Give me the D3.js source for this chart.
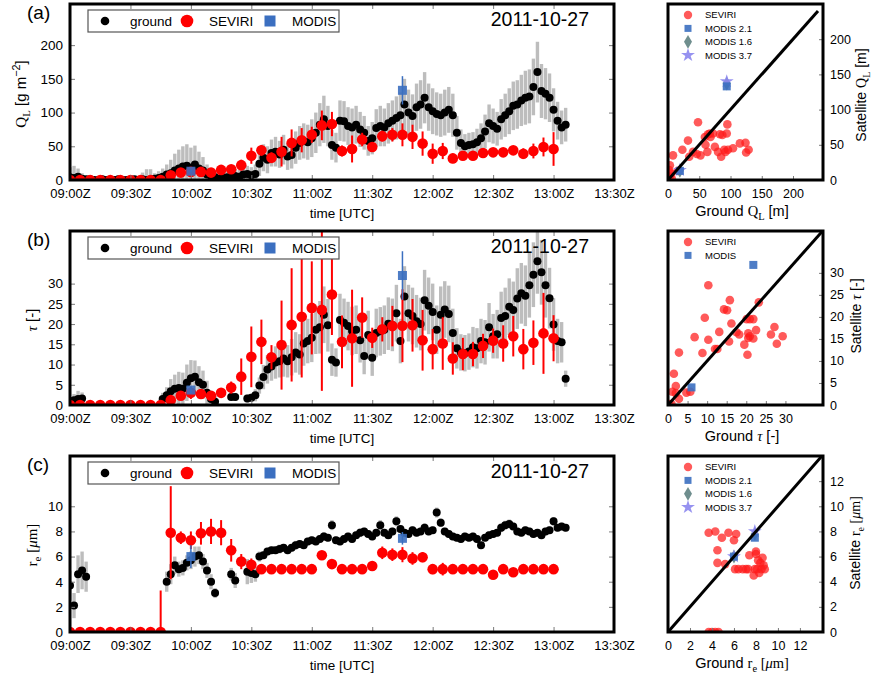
<!DOCTYPE html>
<html>
<head>
<meta charset="utf-8">
<script src="https://cdn.jsdelivr.net/npm/d3@7"></script>
<style>
body { margin: 0; background: #fff; }
text { font-family: Arial, "Liberation Sans", sans-serif; }
</style>
</head>
<body>
<svg id="chart" width="873" height="680"></svg>
<script>
// time grids (minutes after 09:00Z)
var groundMinutes = d3.range(0, 247, 2);
var seviriMinutes = d3.range(0, 241, 5);
var modisMinutes = [60, 165];
var xTickLabelsFmt = '%H:%MZ';
var dateLabel = '2011-10-27';

// ground (Cloudnet) liquid water path, 2-min samples
var groundQL = [
  4,3,5,2,1,1,0,0,1,0,
  0,0,1,0,0,0,1,0,1,0,
  1,2,3,5,8,10,14,17,20,21,
  18,23,17,14,8,6,4,2,3,4,
  5,6,5,8,9,7,9,24,33,30,
  40,42,38,45,35,37,48,55,58,56,
  62,70,82,90,80,52,48,88,87,80,
  78,82,75,70,58,62,77,80,78,84,
  88,92,96,112,100,95,108,112,122,108,
  102,98,96,100,104,96,70,55,50,52,
  53,56,62,72,84,80,76,90,96,102,
  110,112,118,122,124,138,160,132,128,122,
  104,88,78,82];
var groundQLErr = [
  15,18,12,8,3,2,2,2,2,2,
  2,2,2,2,2,2,2,2,10,16,
  15,8,10,12,15,20,25,28,30,32,
  30,28,25,20,15,12,10,8,10,10,
  10,10,10,12,12,12,14,18,20,20,
  20,22,20,22,20,20,24,25,26,26,
  28,30,32,35,30,22,22,30,30,28,
  28,28,26,25,22,24,28,30,28,30,
  30,32,34,38,34,32,35,36,38,35,
  34,32,32,34,34,32,25,20,18,18,
  18,20,22,25,28,26,25,30,32,34,
  36,36,38,40,40,42,45,40,38,36,
  32,28,25,25];

// ground optical depth
var groundTau = [
  0.8,1.2,1.5,1.6,null,null,null,null,null,null,
  null,null,null,null,null,null,null,null,null,null,
  null,null,null,1.5,2.4,3.4,4.0,4.2,4.0,5.5,
  6.6,7.0,5.6,5.0,3.0,1.5,0.8,null,null,null,
  2.0,2.0,null,null,1.6,1.8,2.4,4.8,6.9,8.8,
  9.5,10.5,10.8,11.5,10.8,11.8,13.0,12.5,15.2,15.8,
  16.6,18.6,19.2,22.3,19.7,11.2,10.5,21.0,20.3,19.5,
  18.3,18.6,16.0,12.1,17.3,11.7,17.8,18.2,18.6,20.1,
  19.8,22.7,15.8,26.8,22.7,22.0,20.7,20.0,25.9,24.5,
  23.0,18.6,22.3,23.6,22.5,17.8,14.0,13.0,12.8,13.2,
  14.3,14.0,15.8,15.5,19.2,17.0,17.5,21.5,22.0,24.3,
  23.5,26.3,27.6,27.0,29.6,32.2,35.5,32.8,29.6,26.4,
  19.9,15.8,15.5,6.5];
var groundTauErr = [
  1.0,1.5,2.0,1.5,0,0,0,0,0,0,
  0,0,0,0,0,0,0,0,0,0,
  0,0,0,1.5,2,3,3.5,4,4,4.5,
  4.5,4,4,3.5,3,2,1.5,0,0,0,
  1,1,0,0,1,1,1.5,2,3,3.5,
  3.5,4,4,4.5,4,4.5,5,5,5.5,5.5,
  6,6,6.5,7,6.5,4,3.5,6.5,6,6,
  6,6,5.5,4.5,6,4.5,6,6,6,6.5,
  6.5,7,5.5,7.5,7,7,6.5,6.5,7.5,7,
  7,6,7,7,7,6,5,4.5,4.5,4.5,
  5,5,5.5,5.5,6,5.5,6,6.5,7,7,
  7,7.5,7.5,7.5,8,8,8,8,8,7.5,
  6.5,5.5,5,2];

// ground effective radius
var groundRe = [
  3.7,2.1,4.6,4.9,4.4,null,null,null,null,null,
  null,null,null,null,null,null,null,null,null,null,
  null,null,null,null,4.0,4.6,5.3,5.0,5.1,5.5,
  5.7,6.0,6.1,5.6,4.9,4.0,3.1,null,null,null,
  4.6,4.1,null,null,4.8,4.7,4.6,6.0,6.1,6.4,
  6.5,6.5,6.6,6.7,6.5,6.7,6.9,7.0,6.9,7.2,
  7.3,7.2,7.4,7.6,7.5,8.5,7.3,7.2,7.4,7.6,
  7.4,7.7,7.9,8.0,7.8,7.6,7.9,8.5,7.9,7.7,
  8.0,8.8,8.2,7.9,7.8,8.1,7.9,8.0,8.3,8.0,
  8.1,9.5,8.7,8.0,7.8,7.6,7.5,7.4,7.6,7.5,
  7.6,7.4,6.9,7.5,7.7,7.8,7.9,8.3,8.5,8.6,
  8.4,8.0,7.9,8.1,8.0,7.8,7.9,7.7,8.0,8.1,
  8.8,8.3,8.4,8.3];
var groundReErr = [
  1.2,1.0,1.5,1.5,1.2,0,0,0,0,0,
  0,0,0,0,0,0,0,0,0,0,
  0,0,0,0,0.8,0.8,0.7,0.6,0.6,0.6,
  0.7,0.8,0.7,0.6,0.6,0.6,0.4,0,0,0,
  0.5,0.6,0,0,1.0,0.8,0.6,0.4,0.3,0.3,
  0.3,0.3,0.35,0.3,0.3,0.3,0.35,0.3,0.3,0.3,
  0.3,0.3,0.3,0.35,0.3,0.4,0.3,0.3,0.3,0.3,
  0.3,0.3,0.35,0.3,0.3,0.3,0.3,0.4,0.3,0.3,
  0.3,0.4,0.3,0.3,0.3,0.3,0.3,0.3,0.35,0.3,
  0.3,0.4,0.35,0.3,0.3,0.3,0.3,0.3,0.3,0.3,
  0.3,0.3,0.3,0.3,0.3,0.3,0.3,0.35,0.35,0.35,
  0.3,0.3,0.3,0.3,0.3,0.3,0.3,0.3,0.3,0.3,
  0.35,0.3,0.3,0.3];

// SEVIRI retrievals, every 5 min
var seviriQL = [
  0,0,0,0,0,0,0,0,0,0,
  7,11,12,12,11,15,16,22,36,44,
  33,42,55,59,67,81,83,43,46,60,
  49,65,67,67,64,54,39,43,32,36,
  36,40,41,41,44,39,43,49,46];
var seviriQLErr = [
  0,0,0,0,0,0,0,0,0,0,
  4,5,5,5,4,5,5,8,12,8,
  8,22,20,18,12,22,18,8,20,10,
  6,8,10,17,18,18,15,12,7,5,
  5,5,5,5,6,8,11,14,25];
var seviriTau = [
  0,0,0,0,0,0,0,0,0,0,
  1.2,2.3,3.0,2.7,2.3,3.0,4.3,7.0,11.9,15.6,
  11.8,14.8,19.8,21.8,24.0,23.5,27.3,15.6,16.5,21.6,
  16.6,18.7,19.5,19.6,19.7,16.0,13.8,15.2,11.5,12.6,
  12.6,14.6,15.9,15.2,17.0,13.8,15.4,17.7,16.5];
var seviriTauErr = [
  0,0,0,0,0,0,0,0,0,0,
  1,1,1.5,1,1,1,1.5,4.5,7.5,5.5,
  3,11,14,15,11.5,20,10,6.5,12,5,
  2.5,3,5,9,6.5,7.5,5,6.5,4,4,
  3,3,3,4.5,5,5,5.5,10,5.7,17.5];
var seviriRe = [
  0,0,0,0,0,0,0,0,0,0,
  7.9,7.5,7.3,7.85,8.0,7.9,6.5,5.6,5.35,5.0,
  5.0,5.0,5.0,5.0,5.0,6.1,5.4,5.0,5.0,5.0,
  5.25,6.3,6.15,6.15,5.85,5.95,5.0,5.0,5.0,5.0,
  5.0,5.0,4.55,5.0,4.75,5.0,5.0,5.0,5.0];
var seviriReErr = [
  0,0,0,0,0,0,0,0,0,3.3,
  3.7,0.5,0.7,0.9,1.0,1.0,0.9,0.6,0.5,0.15,
  0.15,0.15,0.15,0.15,0.3,0.3,0.2,0.15,0.15,0.15,
  0.4,0.5,0.5,0.6,0.5,0.4,0.4,0.5,0.15,0.15,
  0.15,0.15,0.2,0.35,0.2,0.3,0.3,0.15,0.15];

// MODIS overpasses
var modisQL = [13, 133], modisQLErr = [2, 21];
var modisTau = [3.7, 32], modisTauErr = [0.8, 6];
var modisRe = [6.0, 7.45], modisReErr = [0.9, 0.5];

// scatter: ground vs satellite
var scatQLGround = [5,3,2,8,3,6,16,23,32,34,40,48,46,52,59,60,63,64,68,67,72,75,80,83,87,85,90,94,95,92,96,104,115,124,125,129,0];
var scatQLSat    = [9.5,21,14,35,5,2,13,43,56,33,40,82,37,35,61,50,40,65,61,66,66,47,40,65,64,33,43,66,79,40,43,45,52,53,39,43,0];
var scatQLModisGround = [19, 94];
var scatQLModis21 = [13, 133];
var scatQLModis16 = [13, 137];
var scatQLModis37 = [14, 140];

var scatTauGround = [10.3,15.8,14.3,15.1,9.4,23.2,16.2,20.1,20.9,21.8,13.1,17.5,18.2,6.8,10.3,15.6,20.5,20.5,20.9,21.8,22.5,19.5,20.3,12.0,12.6,8.8,2.8,26.3,27.2,29.3,27.8,1.5,2.0,1.1,2.0,2.8,4.7,5.7,0.9,0.3];
var scatTauSat    = [27.2,23.8,21.7,21.5,19.8,23.3,18.5,19.5,19.5,19.5,16.6,16.5,16.0,15.4,14.8,14.4,16.3,15.2,15.6,15.1,17.0,13.7,11.4,12.7,12.7,11.8,11.9,16.0,17.7,15.6,13.9,7.1,4.3,3.0,2.7,1.4,2.8,3.0,0.2,0.2];
var scatTauModisGround = [6.0, 21.8];
var scatTauModis = [4.0, 31.8];

var scatReGround = [3.7,4.3,4.9,5.5,6.0,6.2,4.5,4.5,5.2,6.1,6.4,7.3,7.4,7.9,8.0,8.0,8.2,8.4,8.6,8.7,8.5,8.8,7.8,8.3,7.1,6.8,8.1,3.7,4.0,4.3,4.6];
var scatReSat    = [7.9,8.0,7.5,7.9,7.3,7.8,6.5,5.5,5.4,5.0,5.0,5.0,6.1,5.0,6.2,6.4,5.7,5.5,5.9,5.3,5.0,5.0,4.5,4.7,5.0,5.0,5.0,0,0,0,0];
var scatReModisGround = [6.0, 7.9];
var scatReModis21 = [6.0, 7.5];
var scatReModis16 = [6.0, 7.8];
var scatReModis37 = [6.0, 8.0];

var SERIF = '"Liberation Serif", "DejaVu Serif", serif';
var RED = '#ff0000', BLUE = '#3b6fc0', GREY = '#bdbdbd', DIAM = '#6f8e8e', STAR = '#8b86ee';

var svg = d3.select('#chart');
svg.append('rect').attr('width', 873).attr('height', 680).attr('fill', '#fff');

var t0 = Date.UTC(2011, 9, 27, 9, 0);
function toDate(m) { return new Date(t0 + m * 60000); }
var x = d3.scaleTime().domain([toDate(0), toDate(270)]).range([70, 614]);

// write mixed sans / math text with sub- and superscripts
function addRich(sel, parts, fs) {
    var cur = 0;
    parts.forEach(function (p) {
        var want = p.sub ? 0.28 * fs : (p.sup ? -0.42 * fs : 0);
        var ts = sel.append('tspan').text(p.t).attr('dy', want - cur);
        cur = want;
        if (p.sub || p.sup) ts.attr('font-size', fs * 0.72);
        if (p.serif) ts.attr('font-family', SERIF);
        if (p.it) ts.attr('font-style', 'italic');
    });
}

var mathQL = [{t: 'Q', serif: 1}, {t: 'L', serif: 1, sub: 1}];
var mathTau = [{t: 'τ', serif: 1, it: 1}];
var mathRe = [{t: 'r', serif: 1}, {t: 'e', serif: 1, sub: 1}];
var unitRe = [{t: ' [', serif: 1}, {t: 'μ', serif: 1, it: 1}, {t: 'm]', serif: 1}];

var panels = [
    {
        label: '(a)', top: 4, bottom: 180, yMax: 261, yTicks: [0, 50, 100, 150, 200],
        ground: groundQL, groundErr: groundQLErr, sev: seviriQL, sevErr: seviriQLErr,
        modis: modisQL, modisErr: modisQLErr,
        yTitle: mathQL.concat([{t: ' [g m'}, {t: '−2', sup: 1}, {t: ']'}]), yTitleX: 26, yTitleY: 94,
        sc: {
            xMax: 248, yMax: 250, diag: 240, ticks: [0, 50, 100, 150, 200],
            g: scatQLGround, s: scatQLSat, mg: scatQLModisGround,
            m21: scatQLModis21, m16: scatQLModis16, m37: scatQLModis37,
            legend: ['SEVIRI', 'MODIS 2.1', 'MODIS 1.6', 'MODIS 3.7'],
            xTitle: [{t: 'Ground '}].concat(mathQL, [{t: ' [m]'}]),
            yTitle: [{t: 'Satellite '}].concat(mathQL, [{t: ' [m]'}]), yTitleX: 866, yTitleY: 95
        }
    },
    {
        label: '(b)', top: 231, bottom: 405, yMax: 43, yTicks: [0, 5, 10, 15, 20, 25, 30],
        ground: groundTau, groundErr: groundTauErr, sev: seviriTau, sevErr: seviriTauErr,
        modis: modisTau, modisErr: modisTauErr,
        yTitle: mathTau.concat([{t: ' [-]'}]), yTitleX: 37, yTitleY: 320,
        sc: {
            xMax: 39.6, yMax: 39.5, diag: 39.5, ticks: [0, 5, 10, 15, 20, 25, 30],
            g: scatTauGround, s: scatTauSat, mg: scatTauModisGround,
            m21: scatTauModis, m16: null, m37: null,
            legend: ['SEVIRI', 'MODIS'],
            xTitle: [{t: 'Ground '}].concat(mathTau, [{t: ' [-]'}]),
            yTitle: [{t: 'Satellite '}].concat(mathTau, [{t: ' [-]'}]), yTitleX: 861, yTitleY: 316
        }
    },
    {
        label: '(c)', top: 456, bottom: 632, yMax: 14, yTicks: [0, 2, 4, 6, 8, 10],
        ground: groundRe, groundErr: groundReErr, sev: seviriRe, sevErr: seviriReErr,
        modis: modisRe, modisErr: modisReErr,
        yTitle: mathRe.concat(unitRe), yTitleX: 37, yTitleY: 545,
        sc: {
            xMax: 14.1, yMax: 14, diag: 14, ticks: [0, 2, 4, 6, 8, 10, 12],
            g: scatReGround, s: scatReSat, mg: scatReModisGround,
            m21: scatReModis21, m16: scatReModis16, m37: scatReModis37,
            legend: ['SEVIRI', 'MODIS 2.1', 'MODIS 1.6', 'MODIS 3.7'],
            xTitle: [{t: 'Ground '}].concat(mathRe, unitRe),
            yTitle: [{t: 'Satellite '}].concat(mathRe, unitRe), yTitleX: 860, yTitleY: 543
        }
    }
];

function styleAxis(sel, fs) {
    sel.attr('font-size', fs).attr('font-family', 'Arial, "Liberation Sans", sans-serif');
    sel.select('.domain').remove();
    sel.selectAll('.tick line').attr('stroke', '#7a7a7a');
    sel.selectAll('.tick text').attr('fill', '#000');
}

function drawSeries(p, i) {
    var y = d3.scaleLinear().domain([0, p.yMax]).range([p.bottom, p.top]);
    var g = svg.append('g');
    var clipId = 'clip-ts-' + i;
    svg.append('clipPath').attr('id', clipId).append('rect')
        .attr('x', 70).attr('y', p.top).attr('width', 544).attr('height', p.bottom - p.top);
    var plot = g.append('g').attr('clip-path', 'url(#' + clipId + ')');

    var ground = groundMinutes.map(function (m, k) {
        return {m: m, v: p.ground[k], e: p.groundErr[k]};
    }).filter(function (d) { return d.v !== null; });
    var sev = seviriMinutes.map(function (m, k) { return {m: m, v: p.sev[k], e: p.sevErr[k]}; });
    var mod = modisMinutes.map(function (m, k) { return {m: m, v: p.modis[k], e: p.modisErr[k]}; });

    plot.selectAll('line.gerr').data(ground).join('line')
        .attr('x1', d => x(toDate(d.m))).attr('x2', d => x(toDate(d.m)))
        .attr('y1', d => y(d.v - d.e)).attr('y2', d => y(d.v + d.e))
        .attr('stroke', GREY).attr('stroke-width', 3.4);
    plot.selectAll('circle.gnd').data(ground).join('circle')
        .attr('cx', d => x(toDate(d.m))).attr('cy', d => y(d.v)).attr('r', 4).attr('fill', '#000');
    plot.selectAll('line.serr').data(sev.filter(d => d.e > 0)).join('line')
        .attr('x1', d => x(toDate(d.m))).attr('x2', d => x(toDate(d.m)))
        .attr('y1', d => y(d.v - d.e)).attr('y2', d => y(d.v + d.e))
        .attr('stroke', RED).attr('stroke-width', 2);
    plot.selectAll('circle.sev').data(sev).join('circle')
        .attr('cx', d => x(toDate(d.m))).attr('cy', d => y(d.v)).attr('r', 5.3).attr('fill', RED);
    plot.selectAll('line.merr').data(mod).join('line')
        .attr('x1', d => x(toDate(d.m))).attr('x2', d => x(toDate(d.m)))
        .attr('y1', d => y(d.v - d.e)).attr('y2', d => y(d.v + d.e))
        .attr('stroke', BLUE).attr('stroke-width', 1.5);
    plot.selectAll('rect.mod').data(mod).join('rect')
        .attr('x', d => x(toDate(d.m)) - 4.5).attr('y', d => y(d.v) - 4.5)
        .attr('width', 9).attr('height', 9).attr('fill', BLUE).attr('fill-opacity', 0.9);

    // axes, ticks pointing inwards on all four sides
    g.append('g').attr('transform', 'translate(0,' + p.bottom + ')')
        .call(d3.axisBottom(x).ticks(d3.utcMinute.every(30)).tickFormat(d3.utcFormat(xTickLabelsFmt))
            .tickSizeInner(-5).tickSizeOuter(0).tickPadding(9))
        .call(styleAxis, 13);
    g.append('g').attr('transform', 'translate(0,' + p.top + ')')
        .call(d3.axisTop(x).ticks(d3.utcMinute.every(30)).tickFormat('').tickSizeInner(-5).tickSizeOuter(0))
        .call(styleAxis, 13);
    g.append('g').attr('transform', 'translate(70,0)')
        .call(d3.axisLeft(y).tickValues(p.yTicks).tickSizeInner(-5).tickSizeOuter(0).tickPadding(7))
        .call(styleAxis, 13.5);
    g.append('g').attr('transform', 'translate(614,0)')
        .call(d3.axisRight(y).tickValues(p.yTicks).tickFormat('').tickSizeInner(-5).tickSizeOuter(0))
        .call(styleAxis, 13.5);

    g.append('rect').attr('x', 70).attr('y', p.top).attr('width', 544).attr('height', p.bottom - p.top)
        .attr('fill', 'none').attr('stroke', '#000').attr('stroke-width', 3);

    // legend
    var ly = p.top + 6;
    var lg = g.append('g');
    lg.append('rect').attr('x', 88).attr('y', ly).attr('width', 251).attr('height', 22)
        .attr('fill', '#fff').attr('stroke', '#555').attr('stroke-width', 1.2);
    lg.append('circle').attr('cx', 105).attr('cy', ly + 11).attr('r', 4.3).attr('fill', '#000');
    lg.append('text').attr('x', 130).attr('y', ly + 16).attr('font-size', 13.5).text('ground');
    lg.append('circle').attr('cx', 187).attr('cy', ly + 11).attr('r', 6.3).attr('fill', RED);
    lg.append('text').attr('x', 209).attr('y', ly + 16).attr('font-size', 13.5).text('SEVIRI');
    lg.append('rect').attr('x', 264.5).attr('y', ly + 5.5).attr('width', 11).attr('height', 11).attr('fill', BLUE);
    lg.append('text').attr('x', 292).attr('y', ly + 16).attr('font-size', 13.5).text('MODIS');

    g.append('text').attr('x', 589).attr('y', p.top + 22).attr('text-anchor', 'end')
        .attr('font-size', 19.5).text(dateLabel);
    g.append('text').attr('x', 27).attr('y', p.top + 15).attr('font-size', 19).text(p.label);

    g.append('text').attr('x', 342).attr('y', p.bottom + 38).attr('text-anchor', 'middle')
        .attr('font-size', 13.5).text('time [UTC]');
    var yt = g.append('text').attr('text-anchor', 'middle').attr('font-size', 15)
        .attr('transform', 'translate(' + p.yTitleX + ',' + p.yTitleY + ') rotate(-90)');
    addRich(yt, p.yTitle, 15);
}

function drawScatter(p, i) {
    var s = p.sc;
    var xs = d3.scaleLinear().domain([0, s.xMax]).range([668, 823]);
    var ys = d3.scaleLinear().domain([0, s.yMax]).range([p.bottom, p.top]);
    var g = svg.append('g');
    var clipId = 'clip-sc-' + i;
    svg.append('clipPath').attr('id', clipId).append('rect')
        .attr('x', 668).attr('y', p.top).attr('width', 155).attr('height', p.bottom - p.top);
    var plot = g.append('g').attr('clip-path', 'url(#' + clipId + ')');

    var pts = s.g.map(function (v, k) { return {gx: v, sy: s.s[k]}; });
    plot.selectAll('circle').data(pts).join('circle')
        .attr('cx', d => xs(d.gx)).attr('cy', d => ys(d.sy)).attr('r', 4.3)
        .attr('fill', '#ff1a1a').attr('fill-opacity', 0.72);

    var diamond = d3.symbol().type(d3.symbolDiamond).size(55);
    var star = d3.symbol().type(d3.symbolStar).size(60);
    if (s.m16) {
        plot.selectAll('path.dia').data(s.mg).join('path')
            .attr('transform', (d, k) => 'translate(' + xs(d) + ',' + ys(s.m16[k]) + ')')
            .attr('d', diamond).attr('fill', DIAM);
    }
    if (s.m37) {
        plot.selectAll('path.star').data(s.mg).join('path')
            .attr('transform', (d, k) => 'translate(' + xs(d) + ',' + ys(s.m37[k]) + ')')
            .attr('d', star).attr('fill', STAR).attr('fill-opacity', 0.9);
    }
    plot.selectAll('rect.sq').data(s.mg).join('rect')
        .attr('x', d => xs(d) - 4).attr('y', (d, k) => ys(s.m21[k]) - 4)
        .attr('width', 8).attr('height', 8).attr('fill', BLUE).attr('fill-opacity', 0.9);

    plot.append('line').attr('x1', xs(0)).attr('y1', ys(0)).attr('x2', xs(s.diag)).attr('y2', ys(s.diag))
        .attr('stroke', '#000').attr('stroke-width', 3);

    g.append('g').attr('transform', 'translate(0,' + p.bottom + ')')
        .call(d3.axisBottom(xs).tickValues(s.ticks).tickSizeInner(-4).tickSizeOuter(0).tickPadding(9))
        .call(styleAxis, 12.5);
    g.append('g').attr('transform', 'translate(823,0)')
        .call(d3.axisRight(ys).tickValues(s.ticks).tickSizeInner(-4).tickSizeOuter(0).tickPadding(7))
        .call(styleAxis, 12.5);

    g.append('rect').attr('x', 668).attr('y', p.top).attr('width', 155).attr('height', p.bottom - p.top)
        .attr('fill', 'none').attr('stroke', '#000').attr('stroke-width', 3);

    // legend
    s.legend.forEach(function (name, k) {
        var cy = p.top + 11 + k * 13.4;
        if (k === 0) {
            g.append('circle').attr('cx', 688).attr('cy', cy).attr('r', 4.2)
                .attr('fill', '#ff1a1a').attr('fill-opacity', 0.72);
        } else if (k === 1) {
            g.append('rect').attr('x', 684.5).attr('y', cy - 3.5).attr('width', 7).attr('height', 7)
                .attr('fill', BLUE).attr('fill-opacity', 0.9);
        } else if (k === 2) {
            g.append('path').attr('transform', 'translate(688,' + cy + ')').attr('d', diamond).attr('fill', DIAM);
        } else {
            g.append('path').attr('transform', 'translate(688,' + cy + ')').attr('d', star)
                .attr('fill', STAR).attr('fill-opacity', 0.9);
        }
        g.append('text').attr('x', 705).attr('y', cy + 3.4).attr('font-size', 9.5).text(name);
    });

    var xt = g.append('text').attr('x', 742).attr('y', p.bottom + 36)
        .attr('text-anchor', 'middle').attr('font-size', 14.5);
    addRich(xt, s.xTitle, 14.5);
    var yt = g.append('text').attr('text-anchor', 'middle').attr('font-size', 14)
        .attr('transform', 'translate(' + s.yTitleX + ',' + s.yTitleY + ') rotate(-90)');
    addRich(yt, s.yTitle, 14);
}

panels.forEach(function (p, i) {
    drawSeries(p, i);
    drawScatter(p, i);
});
</script>
</body>
</html>
